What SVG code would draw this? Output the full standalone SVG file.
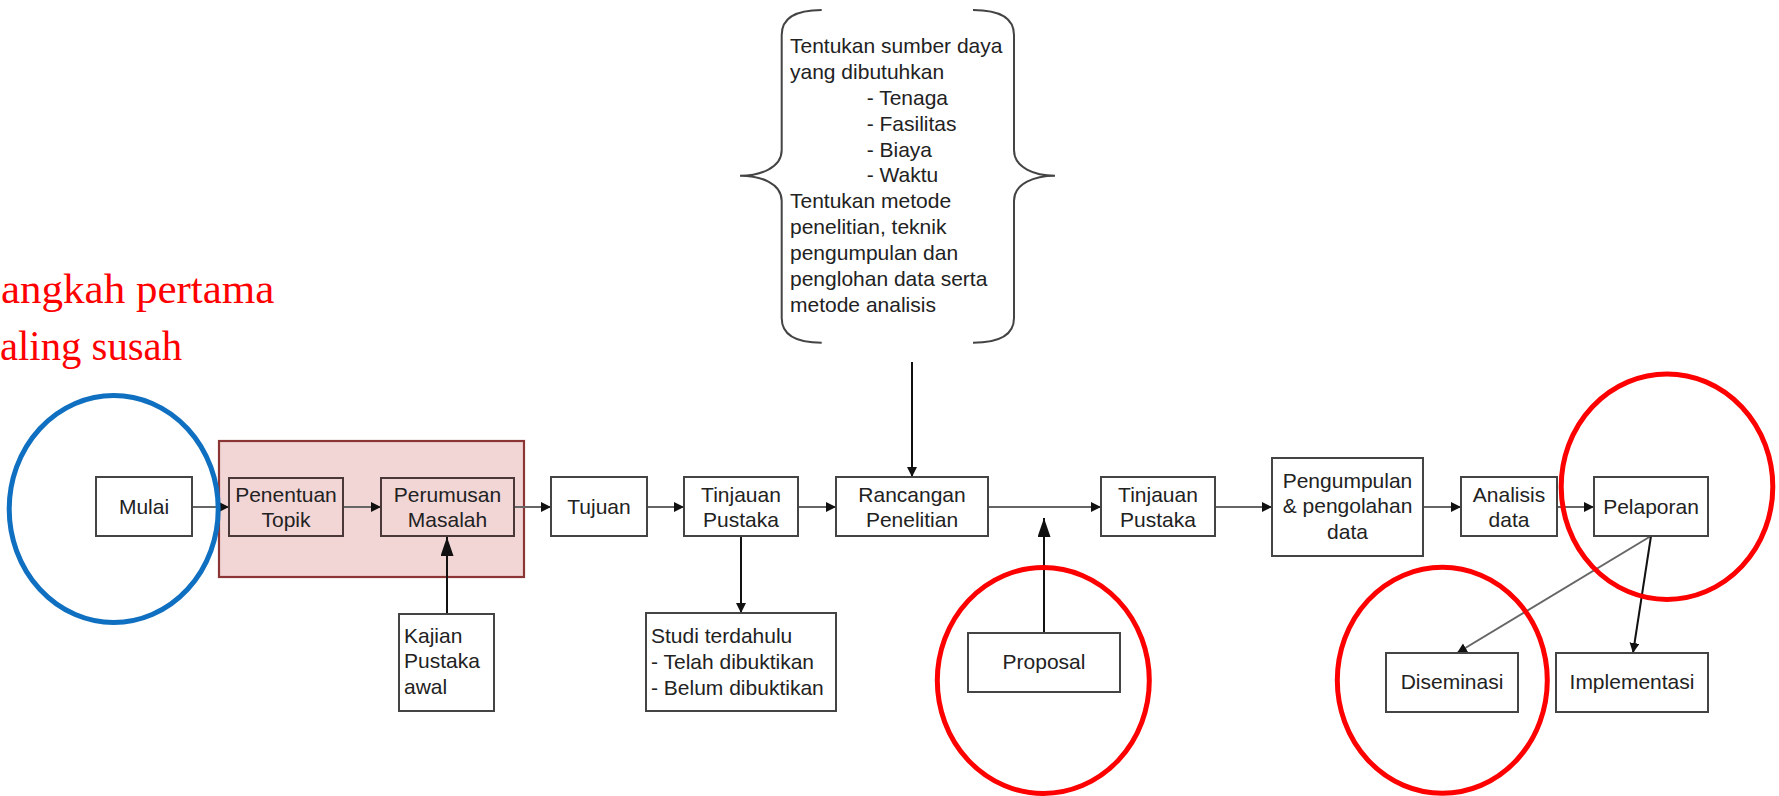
<svg xmlns="http://www.w3.org/2000/svg" width="1779" height="796" viewBox="0 0 1779 796">
<style>
  .box { fill: #ffffff; stroke: #444444; stroke-width: 2; }
  .pbox { fill: none; stroke: #4a3838; stroke-width: 2; }
  .t { font-family: "Liberation Sans", Arial, sans-serif; font-size: 21px; fill: #222222; }
  .c { text-anchor: middle; }
  .conn { stroke: #666666; stroke-width: 2; fill: none; }
  .connk { stroke: #111111; stroke-width: 2; fill: none; }
  .red { fill: none; stroke: #ff0000; stroke-width: 5; }
  .blue { fill: none; stroke: #0f6fc0; stroke-width: 5; }
  .note { font-family: "Liberation Serif", "Times New Roman", serif; font-size: 43px; fill: #ff0000; }
</style>
<defs>
  <marker id="ah" markerUnits="userSpaceOnUse" markerWidth="11" markerHeight="11" refX="10" refY="5" orient="auto">
    <path d="M0,0 L10,5 L0,10 z" fill="#111111"/>
  </marker>
  <marker id="ahL" markerUnits="userSpaceOnUse" markerWidth="20" markerHeight="14" refX="19" refY="6.5" orient="auto">
    <path d="M0,0 L19,6.5 L0,13 z" fill="#111111"/>
  </marker>
</defs>
<rect width="1779" height="796" fill="#ffffff"/>

<g id="note">
  <text class="note" x="1" y="303">angkah pertama</text>
  <text class="note" x="0" y="360" textLength="182" lengthAdjust="spacingAndGlyphs">aling susah</text>
</g>

<g id="group-topik">
  <rect x="219" y="441" width="305" height="136" fill="#f2d6d6" stroke="#8c3535" stroke-width="2.2"/>
</g>

<g id="brace">
  <path d="M821.7,10 Q781.7,10 781.7,35 L781.7,150 C781.7,168 760,175.7 740,175.7 C760,175.7 781.7,183 781.7,201 L781.7,318 Q781.7,342.7 821.7,342.7" fill="none" stroke="#444444" stroke-width="2"/>
  <path d="M973,10 Q1014,10 1014,35 L1014,150 C1014,168 1035,175.7 1055,175.7 C1035,175.7 1014,183 1014,201 L1014,318 Q1014,342.7 973,342.7" fill="none" stroke="#444444" stroke-width="2"/>
  <text class="t" font-size="21.6px">
    <tspan x="790" y="53.3">Tentukan sumber daya</tspan>
    <tspan x="790" y="79.3">yang dibutuhkan</tspan>
    <tspan x="866.7" y="105">- Tenaga</tspan>
    <tspan x="866.7" y="130.7">- Fasilitas</tspan>
    <tspan x="866.7" y="156.7">- Biaya</tspan>
    <tspan x="866.7" y="182.3">- Waktu</tspan>
    <tspan x="790" y="208.3">Tentukan metode</tspan>
    <tspan x="790" y="234.3">penelitian, teknik</tspan>
    <tspan x="790" y="260">pengumpulan dan</tspan>
    <tspan x="790" y="286">penglohan data serta</tspan>
    <tspan x="790" y="311.7">metode analisis</tspan>
  </text>
</g>

<g id="connectors">
  <line class="conn" x1="192" y1="507" x2="229" y2="507" marker-end="url(#ah)"/>
  <line class="conn" x1="343" y1="507" x2="381" y2="507" marker-end="url(#ah)"/>
  <line class="conn" x1="514" y1="507" x2="551" y2="507" marker-end="url(#ah)"/>
  <line class="conn" x1="647" y1="507" x2="684" y2="507" marker-end="url(#ah)"/>
  <line class="conn" x1="798" y1="507" x2="836" y2="507" marker-end="url(#ah)"/>
  <line class="conn" x1="988" y1="507" x2="1101" y2="507" marker-end="url(#ah)"/>
  <line class="conn" x1="1215" y1="507" x2="1272" y2="507" marker-end="url(#ah)"/>
  <line class="conn" x1="1423" y1="507" x2="1461" y2="507" marker-end="url(#ah)"/>
  <line class="conn" x1="1557" y1="507" x2="1594" y2="507" marker-end="url(#ah)"/>
  <line class="connk" x1="741" y1="536" x2="741" y2="613" marker-end="url(#ah)"/>
  <line class="connk" x1="912" y1="362" x2="912" y2="477" marker-end="url(#ah)"/>
  <line class="connk" x1="447" y1="614" x2="447" y2="537" marker-end="url(#ahL)"/>
  <line class="connk" x1="1044" y1="633" x2="1044" y2="518" marker-end="url(#ahL)"/>
  <line class="conn" x1="1651" y1="536" x2="1457" y2="653" marker-end="url(#ah)"/>
  <line class="connk" x1="1651" y1="536" x2="1633" y2="653" stroke-width="1.6" marker-end="url(#ah)"/>
</g>

<g id="mulai">
  <rect class="box" x="96" y="477" width="96" height="59"/>
  <text class="t c" x="144" y="514">Mulai</text>
</g>
<g id="penentuan-topik">
  <rect class="pbox" x="229" y="478" width="114" height="58"/>
  <text class="t c"><tspan x="286" y="501.5">Penentuan</tspan><tspan x="286" y="526.5">Topik</tspan></text>
</g>
<g id="perumusan-masalah">
  <rect class="pbox" x="381" y="478" width="133" height="58"/>
  <text class="t c"><tspan x="447.5" y="501.5">Perumusan</tspan><tspan x="447.5" y="526.5">Masalah</tspan></text>
</g>
<g id="kajian">
  <rect class="box" x="399" y="614" width="95" height="97"/>
  <text class="t"><tspan x="404" y="642.7">Kajian</tspan><tspan x="404" y="668.3">Pustaka</tspan><tspan x="404" y="694">awal</tspan></text>
</g>
<g id="tujuan">
  <rect class="box" x="551" y="477" width="96" height="59"/>
  <text class="t c" x="599" y="514">Tujuan</text>
</g>
<g id="tinjauan-pustaka-1">
  <rect class="box" x="684" y="477" width="114" height="59"/>
  <text class="t c"><tspan x="741" y="501.5">Tinjauan</tspan><tspan x="741" y="526.5">Pustaka</tspan></text>
</g>
<g id="studi">
  <rect class="box" x="646" y="613" width="190" height="98"/>
  <text class="t"><tspan x="651" y="642.7">Studi terdahulu</tspan><tspan x="651" y="669">- Telah dibuktikan</tspan><tspan x="651" y="695">- Belum dibuktikan</tspan></text>
</g>
<g id="rancangan">
  <rect class="box" x="836" y="477" width="152" height="59"/>
  <text class="t c"><tspan x="912" y="501.5">Rancangan</tspan><tspan x="912" y="526.5">Penelitian</tspan></text>
</g>
<g id="proposal">
  <rect class="box" x="968" y="633" width="152" height="59"/>
  <text class="t c" x="1044" y="669">Proposal</text>
</g>
<g id="tinjauan-pustaka-2">
  <rect class="box" x="1101" y="477" width="114" height="59"/>
  <text class="t c"><tspan x="1158" y="501.5">Tinjauan</tspan><tspan x="1158" y="526.5">Pustaka</tspan></text>
</g>
<g id="pengumpulan">
  <rect class="box" x="1272" y="458" width="151" height="98"/>
  <text class="t c"><tspan x="1347.5" y="487.7">Pengumpulan</tspan><tspan x="1347.5" y="513.3">&amp; pengolahan</tspan><tspan x="1347.5" y="539">data</tspan></text>
</g>
<g id="analisis">
  <rect class="box" x="1461" y="477" width="96" height="59"/>
  <text class="t c"><tspan x="1509" y="501.5">Analisis</tspan><tspan x="1509" y="526.5">data</tspan></text>
</g>
<g id="pelaporan">
  <rect class="box" x="1594" y="477" width="114" height="59"/>
  <text class="t c" x="1651" y="514">Pelaporan</text>
</g>
<g id="diseminasi">
  <rect class="box" x="1386" y="653" width="132" height="59"/>
  <text class="t c" x="1452" y="689">Diseminasi</text>
</g>
<g id="implementasi">
  <rect class="box" x="1556" y="653" width="152" height="59"/>
  <text class="t c" x="1632" y="689">Implementasi</text>
</g>

<g id="highlights">
  <ellipse class="blue" cx="113.7" cy="509" rx="104.5" ry="113.5"/>
  <ellipse class="red" cx="1043.3" cy="680.5" rx="106" ry="113"/>
  <ellipse class="red" cx="1442.3" cy="680.3" rx="105" ry="113"/>
  <ellipse class="red" cx="1667" cy="486.7" rx="105.8" ry="112.7"/>
</g>
</svg>
